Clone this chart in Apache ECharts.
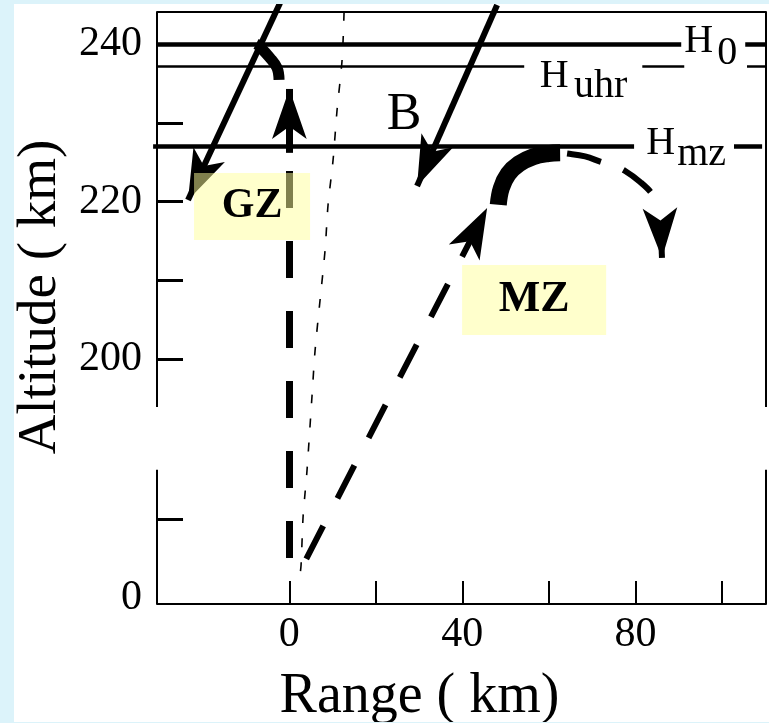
<!DOCTYPE html>
<html><head><meta charset="utf-8">
<script src="https://cdn.jsdelivr.net/npm/echarts@6/dist/echarts.min.js"></script>
<style>
html,body{margin:0;padding:0;background:#dcf3fa;width:769px;height:723px;overflow:hidden}
#chart{position:absolute;left:14px;top:4px;width:755px;height:718px;background:#fff}
</style></head><body><div id="chart"></div>
<script>
// ---------- data: range (km) and altitude (km) ----------
const xTickValues = [0, 20, 40, 60, 80, 100];
const xLabelValues = [0, 40, 80];
const yTickValues = [10, 200, 210, 220, 230, 240];
const yLabelValues = [0, 200, 220, 240];
const rangeExtent = [-30.6, 110.2];
const altitudeExtent = [-0.76, 244.1];
const axisBreak = [16.3, 193.9];

const h0Altitude = 240;
const huhrAltitude = 237.15;
const hmzAltitude = 227.1;
const h0Spans = [[-30.6, 90.6], [105.4, 110.2]];
const huhrSpans = [[-30.6, 54.3], [81.6, 91.3], [105.8, 110.2]];
const hmzSpans = [[-31.5, 79.7], [102.8, 109.3]];

// magnetic field lines (top end -> arrow tip)
const fieldLineLeft = [[-2.15, 245.25], [-23.43, 220.21]];
const fieldLineRight = [[48.03, 244.99], [29.53, 221.99]];

// GZ ray: vertical up from the ground, arrow, turning back at H0
const gzRayPath = [[0, 2.16], [0, 226.2]];
const gzArrowPath = [[0, 226.2], [0, 234.32]];
const gzTurnPath = [[-7.70, 240.04], [-7.01, 239.78], [-4.46, 238.26], [-2.84, 236.99], [-2.38, 235.47]];

// MZ ray: oblique up, turning below Hmz, coming down
const mzRayPath = [[3.17, 4.2], [45.72, 219.19]];
const mzTurnThick = [[48.3, 219.6], [49.0, 221.7], [50.6, 223.5], [53.1, 224.8], [56.4, 225.7], [59.8, 226.1], [62.6, 226.2]];
const mzTurnDashed = [[62.6, 226.2], [64.22, 226.12], [68.39, 225.74], [72.09, 225.04], [75.09, 224.53], [77.64, 223.89], [81.11, 222.5], [83.88, 220.97], [85.04, 219.57]];
const mzArrowPath = [[85.85, 216.9], [86.15, 212.84]];

const thinCurve = [[12.65, 244.1], [12.19, 238.0], [11.03, 231.65], [10.11, 225.3], [8.95, 219.6], [8.26, 213.85], [7.10, 207.5], [5.95, 201.1], [5.25, 195.4], [4.09, 16.27], [3.63, 13.35], [3.17, 10.30], [2.71, 4.20], [2.47, 2.93]];

const zoneNames = ['GZ', 'MZ'];
const zoneRanges = [[-22.04, 4.79], [39.94, 73.24]];
const zoneAltitudes = [[215.12, 223.64], [203.05, 211.95]];

const noteTexts = ['H', '0', 'H', 'uhr', 'H', 'mz', 'B'];
const noteRanges = [94.63, 101.23, 61.22, 71.97, 85.85, 95.33, 26.53];
const noteAltitudes = [240.35, 238.83, 235.9, 234.63, 227.39, 225.99, 231.01];

// ---------- broken altitude axis: lower part shifted up ----------
const LOWER_SHIFT = 169.62;
const toDisplay = a => (a < 100 ? a + LOWER_SHIFT : a);
const pt = p => [p[0], toDisplay(p[1])];

const FONT = 'Liberation Serif, Times New Roman, serif';
const BLACK = '#000';

const frameSegs = [];
rangeExtent.forEach(x => {
  frameSegs.push({ coords: [pt([x, altitudeExtent[0]]), pt([x, axisBreak[0]])] });
  frameSegs.push({ coords: [pt([x, axisBreak[1]]), pt([x, altitudeExtent[1]])] });
});

const levelSegs = [];
[[h0Spans, h0Altitude, 4.5], [huhrSpans, huhrAltitude, 2.5], [hmzSpans, hmzAltitude, 4.5]].forEach(([spans, alt, w]) => {
  spans.forEach(s => levelSegs.push({ coords: [[s[0], alt], [s[1], alt]], lineStyle: { width: w } }));
});

const ARROW = [26, 50];
function linesSeries(items, style, arrow, z) {
  return {
    type: 'lines', coordinateSystem: 'cartesian2d', clip: false, silent: true, z: z || 2,
    symbol: arrow ? ['none', 'arrow'] : ['none', 'none'],
    symbolSize: [0, arrow ? ARROW : 0],
    lineStyle: Object.assign({ color: BLACK, opacity: 1, curveness: 0 }, style),
    data: items
  };
}
function curveSeries(points, style, smooth) {
  return {
    type: 'line', clip: false, silent: true, showSymbol: false, symbol: 'none', z: 2,
    smooth: smooth, data: points.map(pt),
    lineStyle: Object.assign({ color: BLACK }, style)
  };
}

const noteStyle = (i) => {
  if (noteTexts[i] === 'B') return { fontSize: 52 };
  return { fontSize: 40 };
};

const chart = echarts.init(document.getElementById('chart'), null, { renderer: 'canvas' });
chart.setOption({
  animation: false,
  backgroundColor: '#fff',
  grid: { left: 143, right: 3, top: 8, bottom: 118, containLabel: false, outerBoundsMode: 'none' },
  xAxis: [{
    type: 'value', min: rangeExtent[0], max: rangeExtent[1], position: 'bottom',
    axisLine: { show: true, onZero: false, lineStyle: { color: BLACK, width: 2 } },
    axisTick: { show: true, inside: true, length: 23, lineStyle: { color: BLACK, width: 2 }, customValues: xTickValues },
    axisLabel: { show: true, customValues: xLabelValues, color: BLACK, fontFamily: FONT, fontSize: 42, margin: 10 },
    splitLine: { show: false },
    name: 'Range ( km)', nameLocation: 'middle', nameGap: 65,
    nameTextStyle: { color: BLACK, fontFamily: FONT, fontSize: 56, padding: [0, 84, 0, 0] }
  }, {
    type: 'value', min: rangeExtent[0], max: rangeExtent[1], position: 'top',
    axisLine: { show: true, onZero: false, lineStyle: { color: BLACK, width: 2 } },
    axisTick: { show: false }, axisLabel: { show: false }, splitLine: { show: false }
  }],
  yAxis: [{
    type: 'value', min: toDisplay(altitudeExtent[0]), max: altitudeExtent[1], position: 'left',
    axisLine: { show: false, onZero: false },
    axisTick: { show: true, inside: true, length: 26, lineStyle: { color: BLACK, width: 3 }, customValues: yTickValues.map(toDisplay) },
    axisLabel: {
      show: true, customValues: yLabelValues.map(toDisplay), color: BLACK, fontFamily: FONT, fontSize: 42, margin: 15,
      formatter: v => String(Math.round(v < 190 ? v - LOWER_SHIFT : v))
    },
    splitLine: { show: false },
    name: 'Altitude ( km)', nameLocation: 'middle', nameGap: 84,
    nameTextStyle: { color: BLACK, fontFamily: FONT, fontSize: 55, padding: [0, 0, 0, 22] }
  }],
  series: [
    linesSeries(frameSegs, { width: 2 }, false),
    linesSeries(levelSegs, { width: 3 }, false),
    curveSeries(thinCurve, { width: 1.6, type: [9, 15] }, 0.3),
    linesSeries([{ coords: gzRayPath.map(pt) }], { width: 7, type: [37, 33], dashOffset: 47 }, false),
    linesSeries([{ coords: gzArrowPath.map(pt) }], { width: 7 }, true),
    curveSeries(gzTurnPath, { width: 11 }, 0.4),
    linesSeries([{ coords: fieldLineLeft.map(pt) }, { coords: fieldLineRight.map(pt) }], { width: 6 }, true),
    linesSeries([{ coords: mzRayPath.map(pt) }], { width: 6, type: [37, 31], dashOffset: 61 }, true),
    curveSeries(mzTurnThick, { width: 17 }, 0.4),
    curveSeries(mzTurnDashed, { width: 6, type: [35, 24], dashOffset: 52 }, 0.4),
    linesSeries([{ coords: mzArrowPath.map(pt) }], { width: 6 }, true),
    {
      type: 'line', data: [], z: 10, silent: true,
      markArea: {
        silent: true, z: 10,
        itemStyle: { color: 'rgba(255,255,153,0.5)', borderWidth: 0 },
        label: { show: true, position: 'inside', color: BLACK, fontFamily: FONT, fontWeight: 'bold', fontSize: 42 },
        data: zoneNames.map((n, i) => [
          { name: n, coord: [zoneRanges[i][0], zoneAltitudes[i][1]], label: { fontSize: n === 'MZ' ? 44 : 42 } },
          { coord: [zoneRanges[i][1], zoneAltitudes[i][0]] }
        ])
      }
    },
    {
      type: 'scatter', z: 12, silent: true, symbolSize: 1, clip: false,
      itemStyle: { color: 'rgba(0,0,0,0)', opacity: 1 },
      labelLayout: { hideOverlap: false },
      data: noteTexts.map((t, i) => ({
        value: [noteRanges[i], toDisplay(noteAltitudes[i])],
        label: Object.assign({
          show: true, position: 'inside', formatter: t, color: BLACK, opacity: 1, fontFamily: FONT,
          align: 'center', verticalAlign: 'middle', textBorderWidth: 0
        }, noteStyle(i))
      }))
    }
  ]
});
</script></body></html>
